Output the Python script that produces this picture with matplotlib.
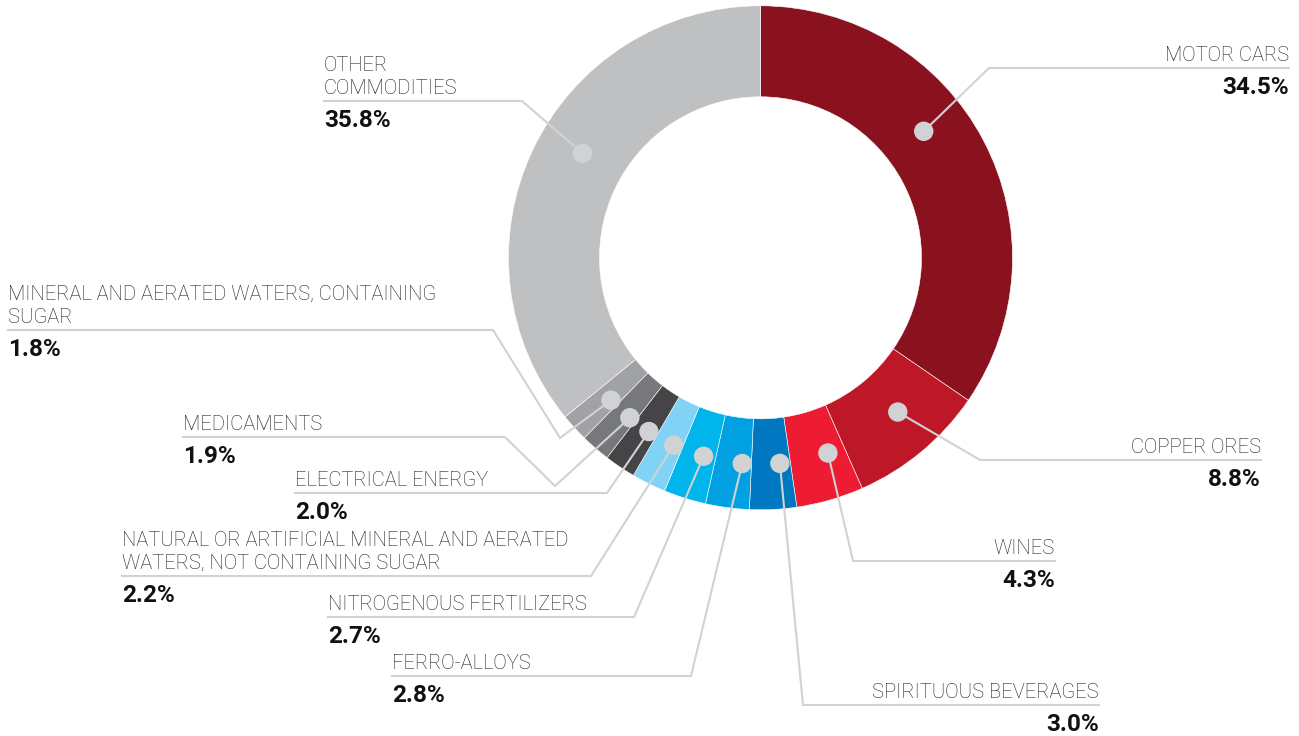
import numpy as np
import matplotlib.pyplot as plt
from matplotlib.patches import Circle

W, H = 1299, 736

labels = ["MOTOR CARS", "COPPER ORES", "WINES", "SPIRITUOUS BEVERAGES",
          "FERRO-ALLOYS", "NITROGENOUS FERTILIZERS",
          "NATURAL OR ARTIFICIAL MINERAL AND AERATED\nWATERS, NOT CONTAINING SUGAR",
          "ELECTRICAL ENERGY", "MEDICAMENTS",
          "MINERAL AND AERATED WATERS, CONTAINING\nSUGAR",
          "OTHER\nCOMMODITIES"]
values = [34.5, 8.8, 4.3, 3.0, 2.8, 2.7, 2.2, 2.0, 1.9, 1.8, 35.8]
colors = ["#8a121f", "#be1828", "#ed1c33", "#0078c1", "#00a0e3", "#00b5ec",
          "#80d3f6", "#454547", "#77787b", "#a1a2a5", "#bfc0c2"]

# layout: dot angle nudge (deg), leader waypoints (image px), text side
nudge = [10, 2, 3, 2.5, 2.5, 1.5, 1.5, 1.2, 1.7, 1.2, -5]
paths = [
    [(989, 68), (1289, 68)],
    [(980, 460), (1261, 460)],
    [(853, 561), (1055, 561)],
    [(803, 705), (1099, 705)],
    [(691, 676), (392, 676)],
    [(634, 617), (328, 617)],
    [(591, 576), (122, 576)],
    [(607, 493), (295, 493)],
    [(555, 486), (505, 437), (183, 437)],
    [(560, 438), (493, 330), (8, 330)],
    [(522, 101), (324, 101)],
]

cx, cy = 760.5, 257.8
R_out, R_in = 252, 161
line_col = "#d1d2d4"
FONT = ["Roboto", "DejaVu Sans"]

def Y(y):
    return H - y

fig = plt.figure(figsize=(W / 100, H / 100), dpi=100)
ax = fig.add_axes([0, 0, 1, 1])
wedges, _ = ax.pie(values, colors=colors, startangle=90, counterclock=False,
                   radius=R_out, center=(cx, Y(cy)),
                   wedgeprops=dict(width=R_out - R_in, edgecolor="white", linewidth=0.4))
ax.set_xlim(0, W)
ax.set_ylim(0, H)
ax.axis("off")

r_dot = (R_out + R_in) / 2
for w, lab, v, nd, pts in zip(wedges, labels, values, nudge, paths):
    ang = np.deg2rad((w.theta1 + w.theta2) / 2 + nd)
    dx = cx + r_dot * np.cos(ang)
    dy = Y(cy) + r_dot * np.sin(ang)
    xs = [dx] + [p[0] for p in pts]
    ys = [dy] + [Y(p[1]) for p in pts]
    ax.plot(xs, ys, color=line_col, lw=1.5, solid_joinstyle="miter", zorder=3)
    ax.add_patch(Circle((dx, dy), 9, color=line_col, zorder=4))

    tx, ly = pts[-1]
    ha = "right" if tx > cx else "left"
    lines = lab.split("\n")
    for i, t in enumerate(lines):
        base = ly - 7 - (len(lines) - 1 - i) * 23
        ax.text(tx, Y(base), t, ha=ha, va="baseline", fontsize=14.5,
                family=FONT, fontweight="light", color="#1c1c1c")
    ax.text(tx, Y(ly + 26), f"{v:.1f}%", ha=ha, va="baseline", fontsize=17.5,
            family=FONT, fontweight="bold", color="#111111")

fig.savefig("out.png", dpi=100, facecolor="white")
